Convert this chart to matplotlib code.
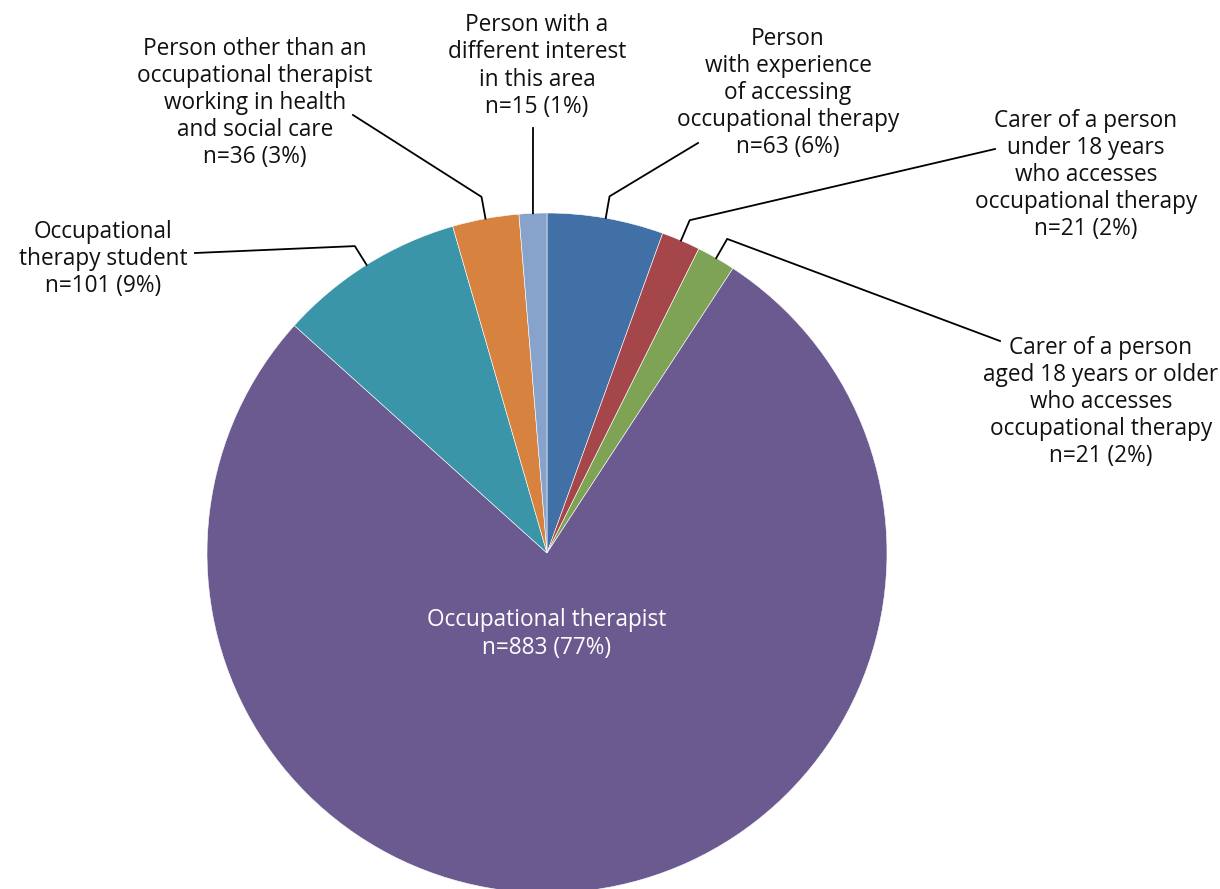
import numpy as np
import matplotlib
matplotlib.use("Agg")
import matplotlib.pyplot as plt

plt.rcParams['font.family'] = ['Open Sans', 'DejaVu Sans']

# data, clockwise from 12 o'clock
labels = [
    "Person\nwith experience\nof accessing\noccupational therapy",
    "Carer of a person\nunder 18 years\nwho accesses\noccupational therapy",
    "Carer of a person\naged 18 years or older\nwho accesses\noccupational therapy",
    "Occupational therapist",
    "Occupational\ntherapy student",
    "Person other than an\noccupational therapist\nworking in health\nand social care",
    "Person with a\ndifferent interest\nin this area",
]
counts = [63, 21, 21, 883, 101, 36, 15]
percents = [6, 2, 2, 77, 9, 3, 1]
colors = ["#4070A6", "#A5464A", "#7EA355", "#6B5A8F", "#3A95A9", "#D7823E", "#87A2CB"]

W, H = 1220, 889
cx, cy, R = 547, 553, 340   # pixel coords (y down)

# label layout: text centre (px), line end point (px)
text_pos = [(788, 93), (1086, 175), (1101, 402), (547, 634), (103, 259), (255, 103), (537, 66)]
line_end = [(698, 143), (995, 149), (1000, 341), None, (195, 253), (353, 115), (533, 128)]


def py(y):
    return H - y


fig = plt.figure(figsize=(W / 100, H / 100), dpi=100)
ax = fig.add_axes([0, 0, 1, 1])
wedges, _ = ax.pie(counts, colors=colors, startangle=90, counterclock=False,
                   center=(cx, py(cy)), radius=R,
                   wedgeprops=dict(edgecolor="white", linewidth=0.4))
ax.set_xlim(0, W)
ax.set_ylim(0, H)
ax.set_aspect("equal")
ax.axis("off")

for i, w in enumerate(wedges):
    txt = labels[i] + "\nn=%d (%d%%)" % (counts[i], percents[i])
    tx, ty = text_pos[i]
    col = "white" if line_end[i] is None else "#111111"
    ax.text(tx, py(ty), txt, ha="center", va="center", multialignment="center",
            fontsize=16.3, color=col, linespacing=1.17)
    if line_end[i] is None:
        continue
    mid = np.deg2rad((w.theta1 + w.theta2) / 2)
    x0, y0 = cx + R * np.cos(mid), py(cy) + R * np.sin(mid)
    x1, y1 = cx + R * 1.065 * np.cos(mid), py(cy) + R * 1.065 * np.sin(mid)
    ex, ey = line_end[i]
    if abs(x1 - ex) < 3:
        ax.plot([x0, ex], [y0, py(ey)], color="black", lw=1.3)
    else:
        ax.plot([x0, x1, ex], [y0, y1, py(ey)], color="black", lw=1.3)

fig.savefig("out.png", dpi=100)
